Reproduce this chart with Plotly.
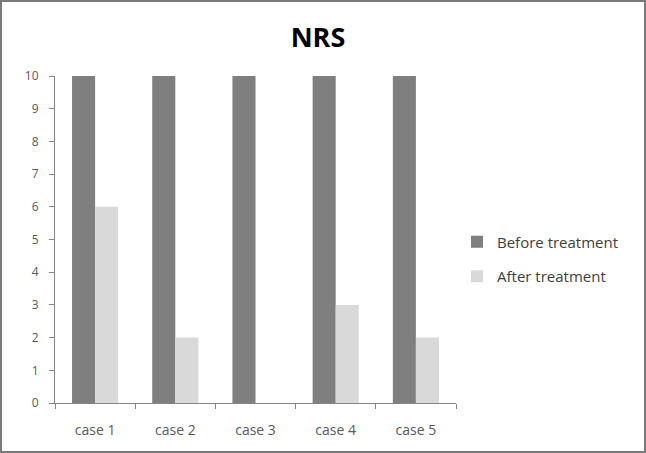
import plotly.graph_objects as go

categories = ["case 1", "case 2", "case 3", "case 4", "case 5"]
before = [10, 10, 10, 10, 10]
after = [6, 2, 0, 3, 2]
yticks = list(range(0, 11))

W, H = 646, 453
L, R, T, B = 55, 190, 76, 50
pw, ph = W - L - R, H - T - B

fig = go.Figure()
fig.add_trace(go.Bar(x=categories, y=before, name="Before treatment", legendgroup="b",
                     marker=dict(color="#7f7f7f", line=dict(width=0))))
fig.add_trace(go.Bar(x=categories, y=after, name="After treatment", legendgroup="a",
                     marker=dict(color="#d9d9d9", line=dict(width=0))))

def px2x(px):
    return (px - L) / pw

def py2y(py):
    return 1 - (py - T) / ph

fig.update_layout(
    width=W, height=H,
    margin=dict(l=L, r=R, t=T, b=B),
    paper_bgcolor="white", plot_bgcolor="white",
    barmode="group", bargap=0.425, bargroupgap=0,
    font=dict(family="Open Sans, sans-serif", color="#595959", size=11),
    title=dict(text="<b>NRS</b>", x=px2x(318), xref="paper", xanchor="center",
               y=1 - 38 / H, yanchor="middle",
               font=dict(size=27, color="#000000", family="Open Sans, sans-serif")),
    showlegend=True,
    legend=dict(x=px2x(457), y=py2y(259), xanchor="left", yanchor="middle",
                font=dict(size=15, color="#404040"), bgcolor="rgba(0,0,0,0)",
                tracegroupgap=12, itemwidth=30),
    xaxis=dict(showline=True, linecolor="#868686", linewidth=1,
               ticks="outside", ticklen=5, tickcolor="#868686", tickson="boundaries",
               ticklabelstandoff=14,
               showgrid=False, tickfont=dict(size=14, color="#595959")),
    yaxis=dict(range=[0, 10], tickvals=yticks, showline=True, linecolor="#868686",
               linewidth=1, ticks="outside", ticklen=5, tickcolor="#868686",
               ticklabelstandoff=8,
               showgrid=False, zeroline=False, tickfont=dict(size=12, color="#595959")),
    shapes=[dict(type="rect", xref="paper", yref="paper",
                 x0=px2x(1), x1=px2x(645), y0=py2y(452), y1=py2y(1),
                 line=dict(color="#7a7a7a", width=2), fillcolor="rgba(0,0,0,0)")],
)

fig.write_html("out.html")
